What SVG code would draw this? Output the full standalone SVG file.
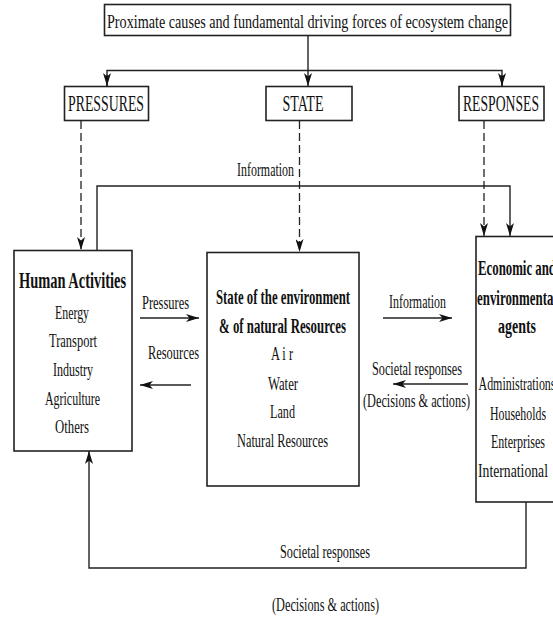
<svg xmlns="http://www.w3.org/2000/svg" width="553" height="617" viewBox="0 0 553 617">
<defs>
<marker id="ah" markerUnits="userSpaceOnUse" markerWidth="14" markerHeight="8" refX="13" refY="4" orient="auto">
<path d="M0,0 L13,4 L0,8 L3.5,4 Z" fill="#111"/>
</marker>
<style>
.t{font-family:"Liberation Serif","Times New Roman",serif;font-size:19px;fill:#111;text-anchor:middle}
.b{font-family:"Liberation Serif","Times New Roman",serif;font-size:22px;font-weight:bold;fill:#111;text-anchor:middle}
.L{font-family:"Liberation Serif","Times New Roman",serif;font-size:23px;fill:#111;text-anchor:middle}
.box{fill:none;stroke:#222;stroke-width:1.6}
.ln{fill:none;stroke:#222;stroke-width:1.4}
.ds{fill:none;stroke:#222;stroke-width:1.3;stroke-dasharray:8,4}
</style>
</defs>
<rect width="553" height="617" fill="#fff"/>

<g id="top">
<rect class="box" x="104.5" y="4.5" width="406" height="31"/>
<text class="t" x="307.5" y="28" textLength="401" lengthAdjust="spacingAndGlyphs">Proximate causes and fundamental driving forces of ecosystem change</text>
</g>

<g id="pressures">
<rect class="box" x="64.5" y="86.5" width="84" height="34"/>
<text class="L" x="106" y="111" textLength="76" lengthAdjust="spacingAndGlyphs">PRESSURES</text>
</g>

<g id="state">
<rect class="box" x="266" y="86.5" width="86" height="34"/>
<text class="L" x="303" y="111" textLength="41" lengthAdjust="spacingAndGlyphs">STATE</text>
</g>

<g id="responses">
<rect class="box" x="459" y="86.5" width="85" height="34"/>
<text class="L" x="501" y="111" textLength="76" lengthAdjust="spacingAndGlyphs">RESPONSES</text>
</g>

<g id="human">
<rect class="box" x="14" y="250.5" width="118" height="200.5"/>
<text class="b" x="72.5" y="288" textLength="107" lengthAdjust="spacingAndGlyphs" style="font-size:24px">Human Activities</text>
<text class="t" x="72" y="319" textLength="34" lengthAdjust="spacingAndGlyphs">Energy</text>
<text class="t" x="73" y="347" textLength="48" lengthAdjust="spacingAndGlyphs">Transport</text>
<text class="t" x="73" y="376" textLength="40" lengthAdjust="spacingAndGlyphs">Industry</text>
<text class="t" x="72.5" y="405" textLength="55" lengthAdjust="spacingAndGlyphs">Agriculture</text>
<text class="t" x="72" y="433" textLength="34" lengthAdjust="spacingAndGlyphs">Others</text>
</g>

<g id="environment">
<rect class="box" x="207" y="252.5" width="152" height="233.5"/>
<text class="b" x="283" y="304" textLength="134" lengthAdjust="spacingAndGlyphs">State of the environment</text>
<text class="b" x="282.5" y="333" textLength="127" lengthAdjust="spacingAndGlyphs">&amp; of natural Resources</text>
<text class="t" x="282" y="360" textLength="22" lengthAdjust="spacingAndGlyphs">A i r</text>
<text class="t" x="283" y="390" textLength="30" lengthAdjust="spacingAndGlyphs">Water</text>
<text class="t" x="282.5" y="418" textLength="25" lengthAdjust="spacingAndGlyphs">Land</text>
<text class="t" x="282.5" y="447" textLength="91" lengthAdjust="spacingAndGlyphs">Natural Resources</text>
</g>

<g id="agents">
<rect class="box" x="476" y="236.5" width="100" height="265.5"/>
<text class="b" x="517" y="275" textLength="78" lengthAdjust="spacingAndGlyphs">Economic and</text>
<text class="b" x="517" y="305" textLength="80" lengthAdjust="spacingAndGlyphs">environmental</text>
<text class="b" x="517" y="333" textLength="38" lengthAdjust="spacingAndGlyphs">agents</text>
<text class="t" x="517" y="390" textLength="77" lengthAdjust="spacingAndGlyphs">Administrations</text>
<text class="t" x="518" y="420" textLength="56" lengthAdjust="spacingAndGlyphs">Households</text>
<text class="t" x="518" y="448" textLength="54" lengthAdjust="spacingAndGlyphs">Enterprises</text>
<text class="t" x="513" y="477" textLength="70" lengthAdjust="spacingAndGlyphs">International</text>
</g>

<g id="connectors">
<line class="ln" x1="308" y1="35.5" x2="308" y2="86" marker-end="url(#ah)"/>
<polyline class="ln" points="107,86 107,70.5 502,70.5 502,86"/>
<line class="ln" x1="107" y1="75" x2="107" y2="86" marker-end="url(#ah)"/>
<line class="ln" x1="502" y1="75" x2="502" y2="86" marker-end="url(#ah)"/>

<line class="ds" x1="81" y1="121" x2="81" y2="250" marker-end="url(#ah)"/>
<line class="ds" x1="299.5" y1="121" x2="299.5" y2="252" marker-end="url(#ah)"/>
<line class="ds" x1="484" y1="121" x2="484" y2="236" marker-end="url(#ah)"/>

<polyline class="ln" points="97,250 97,186 510,186 510,236" marker-end="url(#ah)"/>
<text class="t" x="265.5" y="176" textLength="57" lengthAdjust="spacingAndGlyphs">Information</text>

<line class="ln" x1="140" y1="318" x2="199" y2="318" marker-end="url(#ah)"/>
<text class="t" x="165.5" y="309" textLength="47" lengthAdjust="spacingAndGlyphs">Pressures</text>
<line class="ln" x1="191" y1="385" x2="140" y2="385" marker-end="url(#ah)"/>
<text class="t" x="173.5" y="359" textLength="51" lengthAdjust="spacingAndGlyphs">Resources</text>

<line class="ln" x1="383" y1="318" x2="452" y2="318" marker-end="url(#ah)"/>
<text class="t" x="417.5" y="308" textLength="57" lengthAdjust="spacingAndGlyphs">Information</text>
<line class="ln" x1="468" y1="384" x2="393" y2="384" marker-end="url(#ah)"/>
<text class="t" x="417" y="375" textLength="90" lengthAdjust="spacingAndGlyphs">Societal responses</text>
<text class="t" x="416.5" y="407" textLength="107" lengthAdjust="spacingAndGlyphs">(Decisions &amp; actions)</text>

<polyline class="ln" points="526,502 526,568 89,568 89,451" marker-end="url(#ah)"/>
<text class="t" x="325" y="558" textLength="90" lengthAdjust="spacingAndGlyphs">Societal responses</text>
<text class="t" x="325.5" y="611" textLength="107" lengthAdjust="spacingAndGlyphs">(Decisions &amp; actions)</text>
</g>
</svg>
